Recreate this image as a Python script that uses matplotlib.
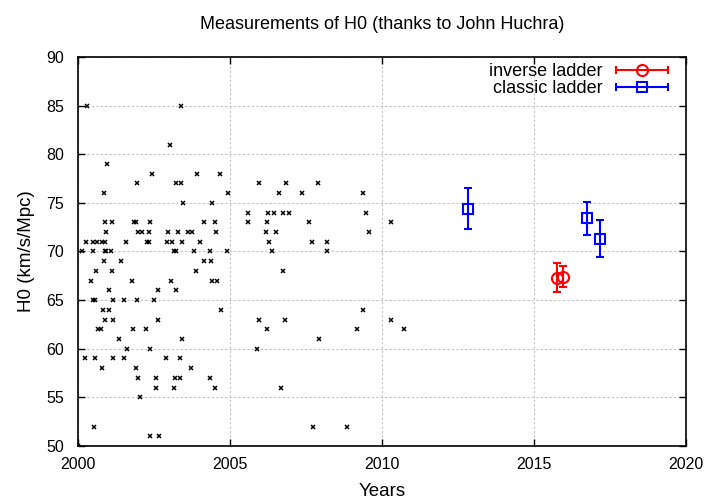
import matplotlib
matplotlib.use("Agg")
import matplotlib.pyplot as plt
from matplotlib.legend_handler import HandlerErrorbar
import numpy as np

plt.rcParams['font.family'] = ['Liberation Sans', 'DejaVu Sans']

# Huchra compilation (year, H0)
huchra_year = [
    2000.31, 2003.38,
    2003.02,
    2000.95,
    2002.43, 2003.92, 2004.67,
    2001.93, 2003.22, 2003.38, 2005.94, 2006.85, 2007.90,
    2000.84, 2004.92, 2006.60, 2007.36, 2009.36,
    2003.44, 2004.41,
    2005.59, 2006.25, 2006.44, 2006.74, 2006.93, 2009.46,
    2000.88, 2001.12, 2001.85, 2001.90, 2002.37, 2004.13, 2004.51, 2005.59, 2006.22, 2007.59, 2010.29,
    2000.92, 2001.98, 2002.09, 2002.35, 2002.96, 2003.29, 2003.63, 2003.74, 2004.54, 2006.19, 2006.50, 2009.56,
    2000.25, 2000.48, 2000.64, 2000.79, 2000.90, 2001.58, 2002.26, 2002.35, 2002.92, 2003.10, 2003.41, 2004.03, 2006.27, 2007.71, 2008.18,
    2000.12, 2000.48, 2000.88, 2000.92, 2001.07, 2003.17, 2003.22, 2003.82, 2004.35, 2004.90, 2006.38, 2008.18,
    2000.84, 2001.40, 2004.14, 2004.38,
    2000.59, 2001.11, 2003.88, 2006.74,
    2000.42, 2001.77, 2003.05, 2004.40, 2004.57,
    2001.01, 2002.63, 2003.22,
    2000.50, 2000.57, 2001.15, 2001.51, 2001.93, 2002.49,
    2000.82, 2001.01, 2004.70, 2009.36,
    2000.90, 2001.14, 2002.63, 2005.96, 2006.81, 2010.29,
    2000.67, 2000.76, 2001.82, 2002.25, 2006.23, 2009.19, 2010.71,
    2001.36, 2003.42, 2007.94,
    2001.61, 2002.38, 2005.90,
    2000.23, 2000.56, 2001.16, 2001.52, 2002.90, 2003.37,
    2000.79, 2001.91, 2003.72,
    2001.96, 2002.58, 2003.20, 2003.37, 2004.34,
    2002.58, 2003.16, 2004.51, 2006.67,
    2002.03,
    2000.52, 2007.73, 2008.85,
    2002.37, 2002.65,
    2000.00,
]
huchra_h0 = (
    [85] * 2 + [81] * 1 + [79] * 1 + [78] * 3 + [77] * 6 + [76] * 5 + [75] * 2
    + [74] * 6 + [73] * 11 + [72] * 12 + [71] * 15 + [70] * 12 + [69] * 4
    + [68] * 4 + [67] * 5 + [66] * 3 + [65] * 6 + [64] * 4 + [63] * 6
    + [62] * 7 + [61] * 3 + [60] * 3 + [59] * 6 + [58] * 3 + [57] * 5
    + [56] * 4 + [55] * 1 + [52] * 3 + [51] * 2 + [50] * 1
)

# inverse ladder
inv_year = [2015.76, 2015.95]
inv_h0 = [67.3, 67.4]
inv_err = [1.5, 1.1]

# classic ladder
cls_year = [2012.82, 2016.73, 2017.18]
cls_h0 = [74.4, 73.4, 71.3]
cls_err = [2.1, 1.7, 1.9]

fig = plt.figure(figsize=(7.2, 5.04), dpi=100)
ax = fig.add_axes([0.1083, 0.1151, 0.8445, 0.7718])

ax.plot(huchra_year, huchra_h0, 'x', color='black', markersize=2.8, markeredgewidth=1.1)

ax.errorbar(inv_year, inv_h0, yerr=inv_err, fmt='o', color='red', mfc='none',
            markersize=8, mew=1.5, elinewidth=1.5, capsize=3, capthick=1.5)
ax.errorbar(cls_year, cls_h0, yerr=cls_err, fmt='s', color='blue', mfc='none',
            markersize=7, mew=1.5, elinewidth=1.5, capsize=3, capthick=1.5)

# legend proxies (horizontal error bars like gnuplot's key samples)
h1 = ax.errorbar([np.nan], [np.nan], xerr=[1], fmt='o', color='red', mfc='none',
                 markersize=8, mew=1.5, elinewidth=1.5, capsize=3, capthick=1.5)
h2 = ax.errorbar([np.nan], [np.nan], xerr=[1], fmt='s', color='blue', mfc='none',
                 markersize=7, mew=1.5, elinewidth=1.5, capsize=3, capthick=1.5)
ax.legend([h1, h2], ['inverse ladder', 'classic ladder'], loc='upper right',
          bbox_to_anchor=(1.0, 1.026),
          markerfirst=False, frameon=False, fontsize=13, handlelength=3.1,
          handletextpad=0.6, labelspacing=0.0, borderaxespad=0.7,
          borderpad=0.2,
          handler_map={type(h1): HandlerErrorbar(xerr_size=1.45)})

ax.set_xlim(2000, 2020)
ax.set_ylim(50, 90)
ax.set_xticks(np.arange(2000, 2021, 5))
ax.set_yticks(np.arange(50, 91, 5))
ax.grid(True, color='#c0c0c0', linestyle=(0, (2, 2)), linewidth=0.8)
ax.tick_params(direction='in', top=True, right=True, length=5, width=1,
               labelsize=11.5, pad=8)
ax.tick_params(axis='y', pad=10)
for s in ax.spines.values():
    s.set_linewidth(1.2)

ax.set_title('Measurements of H0 (thanks to John Huchra)', fontsize=13, pad=20)
ax.set_xlabel('Years', fontsize=13.5, labelpad=8)
ax.set_ylabel('H0 (km/s/Mpc)', fontsize=13.5, labelpad=8)

fig.savefig('out.png', dpi=100)
